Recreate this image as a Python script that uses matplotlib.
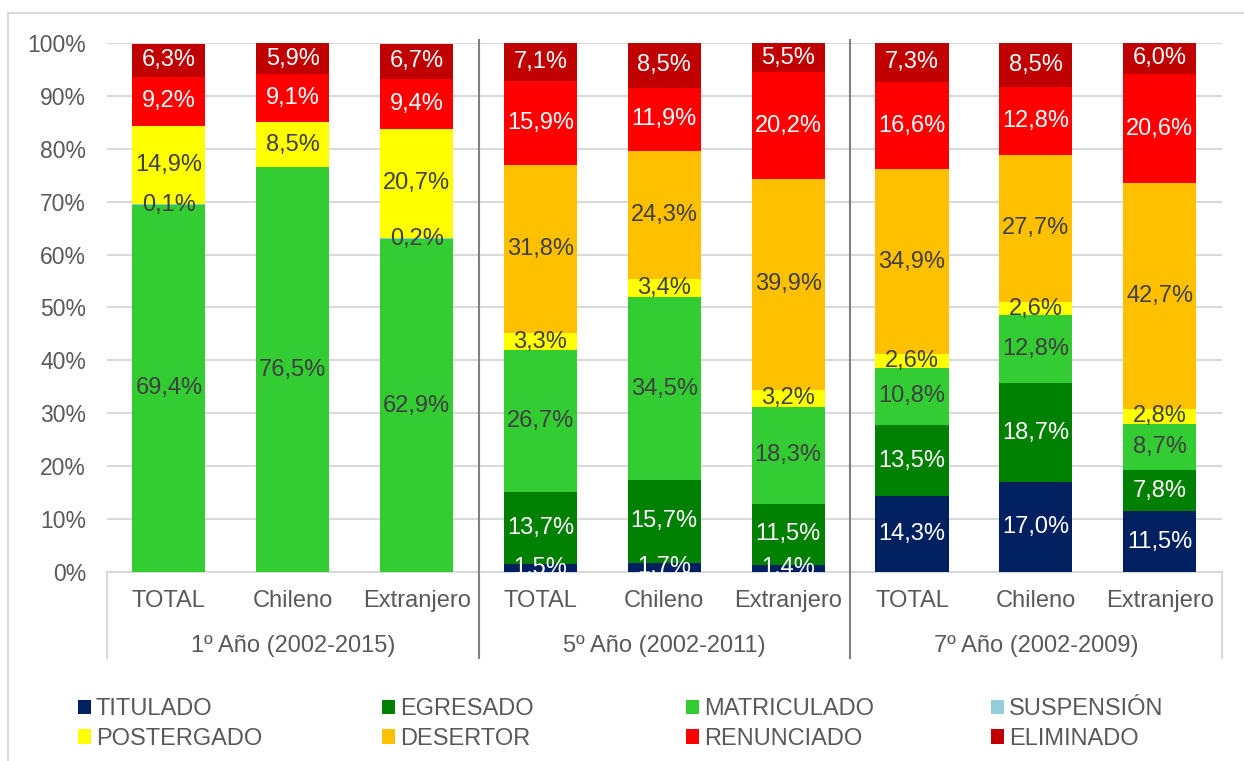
import numpy as np
import matplotlib.pyplot as plt
from matplotlib.patches import Rectangle

plt.rcParams['font.family'] = ['Liberation Sans', 'DejaVu Sans']

categorias = ["TOTAL", "Chileno", "Extranjero"] * 3
grupos = ["1º Año (2002-2015)", "5º Año (2002-2011)", "7º Año (2002-2009)"]

estados = ["TITULADO", "EGRESADO", "MATRICULADO", "SUSPENSIÓN",
           "POSTERGADO", "DESERTOR", "RENUNCIADO", "ELIMINADO"]
colores = ["#002060", "#008000", "#33CC33", "#92CDDC",
           "#FFFF00", "#FFC000", "#FF0000", "#C00000"]
color_texto = ["white", "white", "#404040", "#404040",
               "#404040", "#404040", "white", "white"]

# porcentajes por estado (9 barras: 1º, 5º y 7º año x TOTAL/Chileno/Extranjero)
titulado    = [0.0, 0.0, 0.0, 1.5, 1.7, 1.4, 14.3, 17.0, 11.5]
egresado    = [0.0, 0.0, 0.0, 13.7, 15.7, 11.5, 13.5, 18.7, 7.8]
matriculado = [69.4, 76.5, 62.9, 26.7, 34.5, 18.3, 10.8, 12.8, 8.7]
suspension  = [0.1, 0.0, 0.2, 0.0, 0.0, 0.0, 0.0, 0.0, 0.0]
postergado  = [14.9, 8.5, 20.7, 3.3, 3.4, 3.2, 2.6, 2.6, 2.8]
desertor    = [0.0, 0.0, 0.0, 31.8, 24.3, 39.9, 34.9, 27.7, 42.7]
renunciado  = [9.2, 9.1, 9.4, 15.9, 11.9, 20.2, 16.6, 12.8, 20.6]
eliminado   = [6.3, 5.9, 6.7, 7.1, 8.5, 5.5, 7.3, 8.5, 6.0]

series = [titulado, egresado, matriculado, suspension,
          postergado, desertor, renunciado, eliminado]

FS = 17
gris = "#595959"

fig = plt.figure(figsize=(12.44, 7.61), dpi=100)
ax = fig.add_axes([0.086, 0.2484, 0.896, 0.6951])

x = np.arange(len(categorias))
base = np.zeros(len(categorias))
barras = []
for nombre, vals, col, tc in zip(estados, series, colores, color_texto):
    vals = np.array(vals)
    b = ax.bar(x, vals, 0.59, bottom=base, color=col, label=nombre, zorder=3)
    barras.append(b)
    for xi, b0, v in zip(x, base, vals):
        if v > 0:
            ax.text(xi, b0 + v / 2, f"{v:.1f}%".replace(".", ","),
                    ha="center", va="center", fontsize=FS, color=tc, zorder=4)
    base += vals

ax.set_xlim(-0.5, 8.5)
ax.set_ylim(0, 100)
ax.set_yticks(np.arange(0, 101, 10))
ax.set_yticklabels([f"{t}%" for t in range(0, 101, 10)], fontsize=16.5, color=gris)
ax.yaxis.grid(True, color="#D9D9D9", linewidth=1.5, zorder=0)
ax.tick_params(axis="y", length=0, pad=15)
ax.tick_params(axis="x", length=0, pad=13)
ax.set_xticks(x)
ax.set_xticklabels(categorias, fontsize=FS, color=gris)
for s in ["top", "right", "left"]:
    ax.spines[s].set_visible(False)
ax.spines["bottom"].set_color("#D9D9D9")
ax.spines["bottom"].set_linewidth(1.5)

# separadores de grupo y etiquetas de grupo
trans = ax.get_xaxis_transform()
for xs in [-0.5, 8.5]:
    ax.plot([xs, xs], [0, -0.163], transform=trans, color="#D9D9D9",
            linewidth=1.5, clip_on=False)
for xs in [2.5, 5.5]:
    ax.plot([xs, xs], [1.006, -0.163], transform=trans, color="#808080",
            linewidth=1.5, clip_on=False, zorder=5)
for i, g in enumerate(grupos):
    ax.text(3 * i + 1, -0.14, g, transform=trans, ha="center", va="center",
            fontsize=FS, color=gris)

# marco exterior
fig.patches.append(Rectangle((8 / 1244, -0.1), 1.2, 1.1 - 13 / 761,
                             transform=fig.transFigure, fill=False,
                             edgecolor="#D9D9D9", linewidth=1.5))

# leyenda en 4 columnas fijas
col_x = [78, 382, 686, 991]
for j, cx in enumerate(col_x):
    idx = [j, j + 4]
    fig.legend([barras[i] for i in idx], [estados[i] for i in idx],
               loc="upper left", bbox_to_anchor=(cx / 1244, 1 - 698 / 761),
               frameon=False, fontsize=FS, handlelength=0.55,
               handleheight=0.55, handletextpad=0.2, labelspacing=0.33,
               labelcolor=gris, borderaxespad=0, borderpad=0)

fig.savefig("out.png", dpi=100)
